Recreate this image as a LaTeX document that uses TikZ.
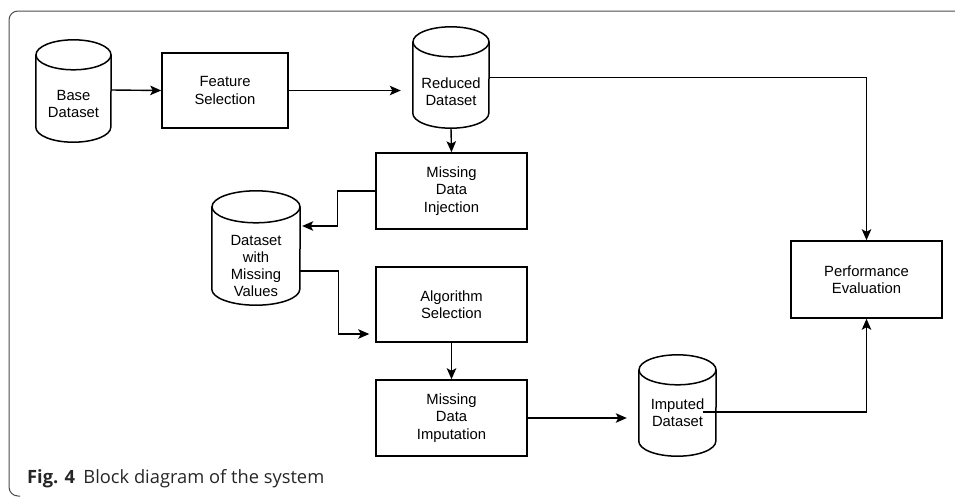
\documentclass[tikz,border=0pt]{standalone}
\usepackage{fontspec}
\setmainfont{Liberation Sans}
\newfontfamily\capfont{Open Sans}
\usetikzlibrary{arrows.meta,calc}
\newcommand\cylout[3]{%
  \draw[cylline] ($(#1.north west)+(0,#3)$) -- ($(#1.south west)+(0,-#3)$)
     arc[start angle=180,end angle=360,x radius=#2pt,y radius=#3pt]
     -- ($(#1.north east)+(0,#3)$);
  \draw[cylline] ($(#1.north)+(0,#3)$) ellipse[x radius=#2pt,y radius=#3pt];}
\begin{document}
\begin{tikzpicture}[x=1pt,y=-1pt,
  diagfont/.style={font=\fontsize{14.8}{17.3}\selectfont},
  boxnode/.style={draw, line width=1.5pt, minimum width=151pt, minimum height=76pt,
     align=center, inner sep=0pt, diagfont},
  cylnode/.style={inner sep=0pt},
  labtext/.style={align=center, inner sep=0pt, diagfont},
  cylline/.style={line width=1.5pt},
  conn/.style={line width=1.4pt},
  arr/.style={conn, -{Stealth[length=11pt,width=9.5pt,inset=2.5pt]}},
  frame/.style={draw=black!70, line width=1pt}]
\useasboundingbox (0,0) rectangle (955,496);
% frame
\draw[frame] (955,11) -- (18,11) arc[start angle=90,end angle=180,radius=9pt]
   -- (9,487) arc[start angle=180,end angle=270,radius=9pt] -- (20,496);
% cylinders
\node[cylnode, minimum width=75pt, minimum height=102pt,
  label={[labtext,yshift=-13pt]center:{Base\\Dataset}}] (base) at (73.5,91) {};
\cylout{base}{37.5}{15}
\node[cylnode, minimum width=76pt, minimum height=101pt,
  label={[labtext,yshift=-14pt]center:{Reduced\\Dataset}}] (red) at (451,77.5) {};
\cylout{red}{38}{15}
\node[cylnode, minimum width=88pt, minimum height=114pt,
  label={[labtext,yshift=-18pt]center:{Dataset\\with\\Missing\\Values}}] (dmv) at (256,248) {};
\cylout{dmv}{44}{16}
\node[cylnode, minimum width=77pt, minimum height=101pt,
  label={[labtext,yshift=-7.5pt]center:{Imputed\\Dataset}}] (imd) at (677.5,405.5) {};
\cylout{imd}{38.5}{15}
% boxes
\node[boxnode, minimum width=126pt, minimum height=75pt] (feat) at (225,90.5) {Feature\\Selection};
\node[boxnode] (inj) at (451.5,191) {Missing\\Data\\Injection};
\node[boxnode, minimum height=75pt] (alg) at (451.5,304.5) {Algorithm\\Selection};
\node[boxnode] (imp) at (451.5,418) {Missing\\Data\\Imputation};
\node[boxnode, minimum height=77pt] (perf) at (866.5,279.5) {Performance\\Evaluation};
% connectors
\draw[arr] ($(base.east)+(0,-1)$) -- (feat.west);
\draw[arr, shorten >=12pt] (feat.east) -- (feat.east -| red.west);
\draw[arr] (red.east) -| (perf.north);
\draw[arr] (red.south) -- (inj.north);
\draw[arr, shorten >=2pt] (inj.west) -- ++(-38,0) |- ($(dmv.east)+(0,-22)$);
\draw[arr, shorten >=6pt] ($(dmv.east)+(0,23)$) -- ++(38,0) |- ($(alg.west)+(0,29.5)$);
\draw[arr] (alg.south) -- (imp.north);
\draw[arr, shorten >=12pt] (imp.east) -- (imd.west |- imp.east);
\draw[arr] ($(imd.east)+(-13,6.5)$) -| (perf.south);
% caption
\node[anchor=base west, inner sep=0pt, text=black!85,
  font=\capfont\fontsize{18.3}{22}\selectfont] (cap) at (27,483)
  {\textbf{Fig. 4}\hspace{0.45em}Block diagram of the system};
\end{tikzpicture}
\end{document}
